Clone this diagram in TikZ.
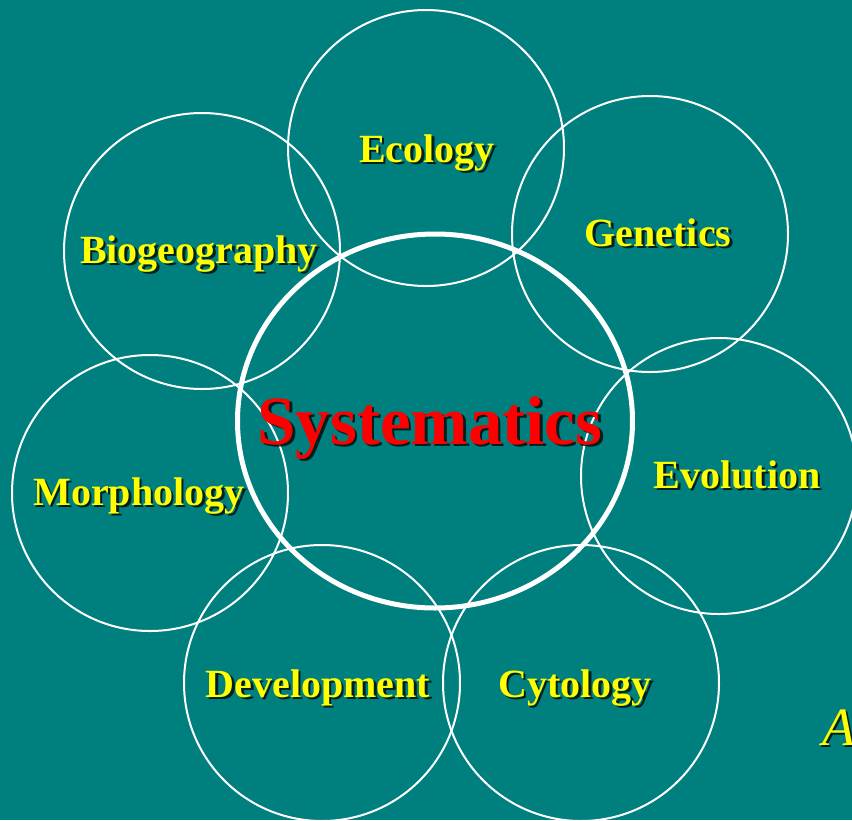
\documentclass[tikz,border=0pt]{standalone}
\usepackage{fontspec}
\setmainfont{Liberation Serif}
\definecolor{teal}{HTML}{007F7F}
\definecolor{lblyellow}{HTML}{FFFF00}
\definecolor{lblred}{HTML}{FF0000}
\tikzset{
  ring/.style={draw=white, line width=2pt},
  mainring/.style={draw=white, line width=5pt},
  field/.style={anchor=base, inner sep=0pt, text=lblyellow, font=\bfseries\fontsize{40}{40}\selectfont},
  core/.style={anchor=base, inner sep=0pt, text=lblred, font=\bfseries\fontsize{69}{69}\selectfont},
  fieldshadow/.style={field, text=black, opacity=0.75},
  coreshadow/.style={core, text=black, opacity=0.75},
}
% label with a soft drop shadow: name, position, style, text
\newcommand\shadowlabel[4]{%
  \node[#3shadow] (#1-sh) at ([xshift=2.5pt,yshift=-2.5pt]#2) {#4};
  \node[#3] (#1) at (#2) {#4};
}
\begin{document}
\begin{tikzpicture}[x=1pt,y=-1pt]
  \fill[teal] (0,0) rectangle (852,820);
  \useasboundingbox (0,0) rectangle (852,820);
  \begin{scope}
    \clip (0,0) rectangle (852,820);
    % surrounding disciplines
    \draw[ring] (426,148) circle [radius=138];
    \draw[ring] (650,234) circle [radius=138];
    \draw[ring] (719,476) circle [radius=138];
    \draw[ring] (202,251) circle [radius=138];
    \draw[ring] (150,493) circle [radius=138];
    \draw[ring] (322,683) circle [radius=138];
    \draw[ring] (581,683) circle [radius=138];
    % central field
    \draw[mainring] (435,421) ellipse [x radius=197.5, y radius=187];
  \end{scope}
  \shadowlabel{eco}{427,162}{field}{Ecology}
  \shadowlabel{gen}{658,246}{field}{Genetics}
  \shadowlabel{bio}{199,263}{field}{Biogeography}
  \shadowlabel{mor}{139,505}{field}{Morphology}
  \shadowlabel{evo}{737,488}{field}{Evolution}
  \shadowlabel{dev}{318,697}{field}{Development}
  \shadowlabel{cyt}{575,697}{field}{Cytology}
  \shadowlabel{sys}{430,444}{core}{Systematics}
  \node[anchor=base west, inner sep=0pt, text=black, opacity=0.75, font=\itshape\fontsize{54}{54}\selectfont] (a-sh) at (824.5,747.5) {A};
  \node[anchor=base west, inner sep=0pt, text=lblyellow, font=\itshape\fontsize{54}{54}\selectfont] (a) at (822,745) {A};
\end{tikzpicture}
\end{document}
